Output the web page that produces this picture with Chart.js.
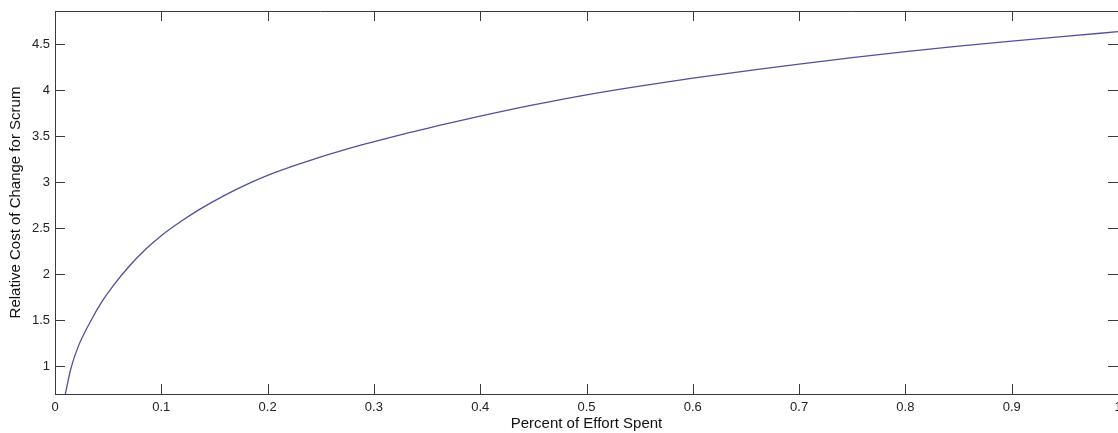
<!DOCTYPE html>
<html>
<head>
<meta charset="utf-8">
<script src="https://cdn.jsdelivr.net/npm/chart.js@4"></script>
<style>
  html, body { margin: 0; padding: 0; background: #fff; }
  #wrap { position: relative; width: 1118px; height: 433px; }
</style>
</head>
<body>
<div id="wrap"><canvas id="chart"></canvas></div>
<script>
// values (smoothed by hand)
const effortSpent = [0.0097, 0.015, 0.022, 0.033, 0.044, 0.055, 0.07, 0.086, 0.1, 0.118, 0.136, 0.16, 0.183, 0.2, 0.23, 0.2775, 0.325, 0.372, 0.4, 0.45, 0.5, 0.55, 0.6, 0.663, 0.7, 0.75, 0.8, 0.85, 0.9, 0.95, 1.0];
const costScrum   = [0.70, 0.98, 1.22, 1.48, 1.70, 1.88, 2.09, 2.28, 2.42, 2.57, 2.705, 2.86, 2.99, 3.075, 3.20, 3.37, 3.515, 3.645, 3.718, 3.84, 3.95, 4.045, 4.13, 4.228, 4.283, 4.353, 4.418, 4.478, 4.533, 4.585, 4.635];
const xTicks = [0, 0.1, 0.2, 0.3, 0.4, 0.5, 0.6, 0.7, 0.8, 0.9, 1];
const yTicks = [1, 1.5, 2, 2.5, 3, 3.5, 4, 4.5];

const FONT = "Arial, 'Liberation Sans', sans-serif";
const AXIS = '#3a3a3a';

// matlab style box: top line plus inward ticks on all four sides
const matlabBox = {
  id: 'matlabBox',
  afterDraw(chart) {
    const {ctx, chartArea: a, scales: {x, y}} = chart;
    const len = 10;
    ctx.save();
    ctx.strokeStyle = AXIS;
    ctx.lineWidth = 1;
    ctx.beginPath();
    ctx.moveTo(a.left, a.top + 0.5);
    ctx.lineTo(a.right, a.top + 0.5);
    xTicks.forEach(v => {
      const px = Math.round(x.getPixelForValue(v)) + 0.5;
      ctx.moveTo(px, a.bottom); ctx.lineTo(px, a.bottom - len);
      ctx.moveTo(px, a.top); ctx.lineTo(px, a.top + len);
    });
    yTicks.forEach(v => {
      const py = Math.round(y.getPixelForValue(v)) + 0.5;
      ctx.moveTo(a.left, py); ctx.lineTo(a.left + len, py);
      ctx.moveTo(a.right, py); ctx.lineTo(a.right - len, py);
    });
    ctx.stroke();
    ctx.restore();
  }
};

new Chart(document.getElementById('chart').getContext('2d'), {
  type: 'line',
  data: {
    datasets: [{
      data: effortSpent.map((v, i) => ({x: v, y: costScrum[i]})),
      borderColor: '#5050a0',
      borderWidth: 1.3,
      pointRadius: 0,
      cubicInterpolationMode: 'monotone',
      fill: false
    }]
  },
  options: {
    responsive: true,
    maintainAspectRatio: false,
    animation: false,
    events: [],
    layout: { padding: { top: 11, right: 0, bottom: 0, left: 0 } },
    plugins: { legend: { display: false }, tooltip: { enabled: false } },
    scales: {
      x: {
        type: 'linear',
        min: 0,
        max: 1,
        afterBuildTicks: s => { s.ticks = xTicks.map(v => ({value: v})); },
        afterFit: s => { s.height = 39; s.paddingLeft = 0; s.paddingRight = 0; },
        grid: { display: false, drawTicks: false },
        border: { display: true, color: AXIS, width: 1 },
        ticks: {
          autoSkip: false,
          maxRotation: 0,
          padding: 6,
          color: '#222',
          font: { family: FONT, size: 13 },
          callback: v => String(v)
        },
        title: {
          display: true,
          text: 'Percent of Effort Spent',
          color: '#111',
          font: { family: FONT, size: 15 },
          padding: { top: 0, bottom: 0 }
        }
      },
      y: {
        min: 0.7,
        max: 4.86,
        afterBuildTicks: s => { s.ticks = yTicks.map(v => ({value: v})); },
        afterFit: s => { s.width = 55; s.paddingTop = 0; s.paddingBottom = 0; },
        grid: { display: false, drawTicks: false },
        border: { display: true, color: AXIS, width: 1 },
        ticks: {
          padding: 5,
          color: '#222',
          font: { family: FONT, size: 13 },
          callback: v => String(v)
        },
        title: {
          display: true,
          text: 'Relative Cost of Change for Scrum',
          color: '#111',
          font: { family: FONT, size: 15 },
          padding: { top: 7, bottom: 0 }
        }
      }
    }
  },
  plugins: [matlabBox]
});
</script>
</body>
</html>
